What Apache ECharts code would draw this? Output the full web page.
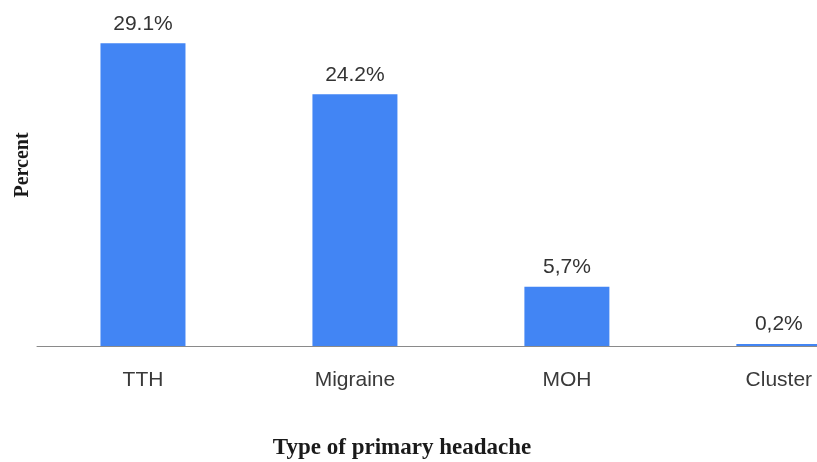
<!DOCTYPE html>
<html>
<head>
<meta charset="utf-8">
<script src="https://cdn.jsdelivr.net/npm/echarts@6/dist/echarts.min.js"></script>
<style>
  html, body { margin: 0; padding: 0; background: #fff; }
  #chart { width: 817px; height: 462px; }
</style>
</head>
<body>
<div id="chart"></div>
<script>
// Prevalence of primary headache types
const categories = ['TTH', 'Migraine', 'MOH', 'Cluster'];
const percentValues = [29.1, 24.2, 5.7, 0.2];
const valueLabels = ['29.1%', '24.2%', '5,7%', '0,2%'];

// Bars are positioned on a numeric x axis by category index; the visible
// range ends partway through the last category's band.
const barPoints = percentValues.map((v, i) => [i, v]);
const categoryIndexes = categories.map((_, i) => i);

const chart = echarts.init(document.getElementById('chart'), null, { renderer: 'canvas' });

chart.setOption({
  animation: false,
  backgroundColor: '#ffffff',
  title: {
    text: 'Type of primary headache',
    left: 397,
    top: 432,
    textAlign: 'center',
    textStyle: {
      fontFamily: 'Liberation Serif',
      fontWeight: 'bold',
      fontSize: 23,
      color: '#1a1a1a'
    }
  },
  grid: { left: 37, top: 34, right: 0, height: 312 },
  xAxis: {
    type: 'value',
    min: -0.5,
    max: 3.18,
    splitLine: { show: false },
    axisLine: { onZero: false, lineStyle: { color: '#8a8a8a', width: 1 } },
    axisTick: { show: false },
    axisLabel: {
      customValues: categoryIndexes,
      margin: 24,
      fontFamily: 'Liberation Sans',
      fontSize: 21,
      color: '#3a3a3a',
      formatter: (v) => categories[Math.round(v)]
    }
  },
  yAxis: {
    type: 'value',
    min: 0,
    max: 30,
    axisLabel: { show: false },
    axisLine: { show: false },
    axisTick: { show: false },
    splitLine: { show: false },
    name: 'Percent',
    nameLocation: 'middle',
    nameRotate: 90,
    nameGap: 4,
    nameTextStyle: {
      fontFamily: 'Liberation Serif',
      fontWeight: 'bold',
      fontSize: 20,
      color: '#1a1a1a',
      padding: [0, 0, 0, 50]
    }
  },
  series: [{
    type: 'bar',
    data: barPoints,
    barWidth: 85,
    itemStyle: { color: '#4285f4' },
    label: {
      show: true,
      position: 'top',
      distance: 9,
      fontFamily: 'Liberation Sans',
      fontSize: 21,
      color: '#333333',
      formatter: (p) => valueLabels[p.dataIndex]
    }
  }]
});
</script>
</body>
</html>
